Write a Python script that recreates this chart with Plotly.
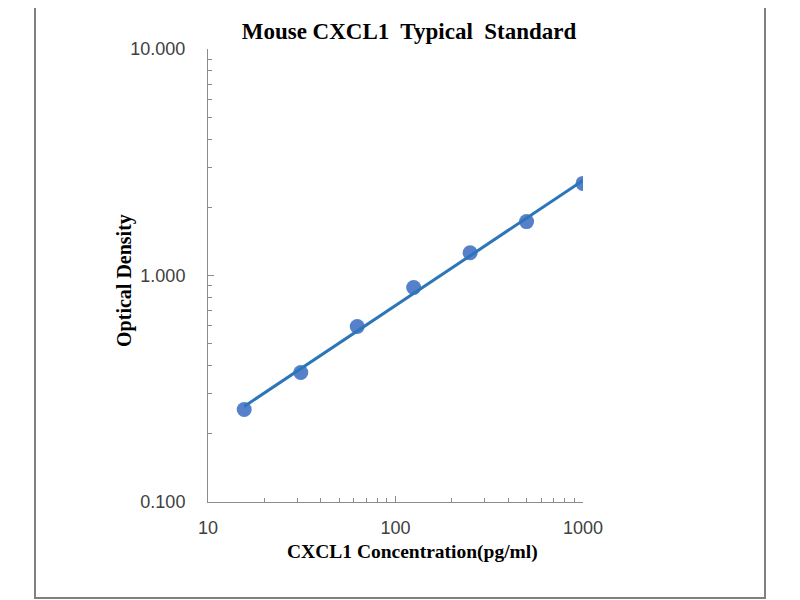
import numpy as np
import plotly.graph_objects as go

# standard curve points
conc = [15.6, 31.25, 62.5, 125, 250, 500, 1000]
od = [0.256, 0.373, 0.595, 0.885, 1.26, 1.73, 2.55]

y_ticks = [0.1, 1, 10]
y_ticktext = ["0.100", "1.000", "10.000"]
x_ticks = [10, 100, 1000]
x_ticktext = ["10", "100", "1000"]

# power trend line (linear in log-log)
k, b = np.polyfit(np.log10(conc), np.log10(od), 1)
fit_x = [conc[0], conc[-1]]
fit_y = [10 ** (k * np.log10(v) + b) for v in fit_x]

fig = go.Figure()
fig.add_trace(go.Scatter(x=conc, y=od, mode="markers",
                         marker=dict(size=15, color="rgba(68,114,196,0.9)"),
                         showlegend=False))
fig.add_trace(go.Scatter(x=fit_x, y=fit_y, mode="lines",
                         line=dict(color="#2a76b9", width=3),
                         showlegend=False))

axis_font = dict(family="Liberation Sans", size=18, color="#404040")
title_font = dict(family="Liberation Serif", size=20, color="black")

fig.update_xaxes(type="log", range=[1, 3], tickvals=x_ticks, ticktext=x_ticktext,
                 showline=True, linecolor="#8c8c8c", linewidth=1,
                 ticks="inside", ticklen=6, tickcolor="#8c8c8c",
                 minor=dict(ticks="inside", ticklen=4, tickcolor="#8c8c8c", dtick="D1", showgrid=False),
                 showgrid=False, zeroline=False, tickfont=axis_font, ticklabelstandoff=9)
fig.update_yaxes(type="log", range=[-1, 1], tickvals=y_ticks, ticktext=y_ticktext,
                 showline=True, linecolor="#8c8c8c", linewidth=1,
                 ticks="inside", ticklen=6, tickcolor="#8c8c8c",
                 minor=dict(ticks="inside", ticklen=4, tickcolor="#8c8c8c", dtick="D1", showgrid=False),
                 showgrid=False, zeroline=False, tickfont=axis_font, ticklabelstandoff=18)

# axis titles as annotations so they sit where the original puts them
fig.add_annotation(text="<b>CXCL1 Concentration(pg/ml)</b>", xref="paper", yref="paper",
                   x=0.544, y=-0.110, xanchor="center", yanchor="middle",
                   showarrow=False, font=dict(family="Liberation Serif", size=19.5, color="black"))
fig.add_annotation(text="<b>Optical Density</b>", xref="paper", yref="paper",
                   x=-0.2213, y=0.488, xanchor="center", yanchor="middle", textangle=-90,
                   showarrow=False, font=title_font)

fig.update_layout(
    width=800, height=600,
    paper_bgcolor="white", plot_bgcolor="white",
    margin=dict(l=200, r=225, t=41, b=106),
    title=dict(text="<b>Mouse CXCL1  Typical  Standard</b>", x=401 / 800, xanchor="center",
               y=1 - 23 / 600, yanchor="middle",
               font=dict(family="Liberation Serif", size=23, color="black")),
    shapes=[dict(type="rect", xref="paper", yref="paper",
                 x0=-0.4613, x1=1.4853, y0=-0.212, y1=1.106,
                 line=dict(color="#808080", width=2))],
)

fig.write_html("out.html")
